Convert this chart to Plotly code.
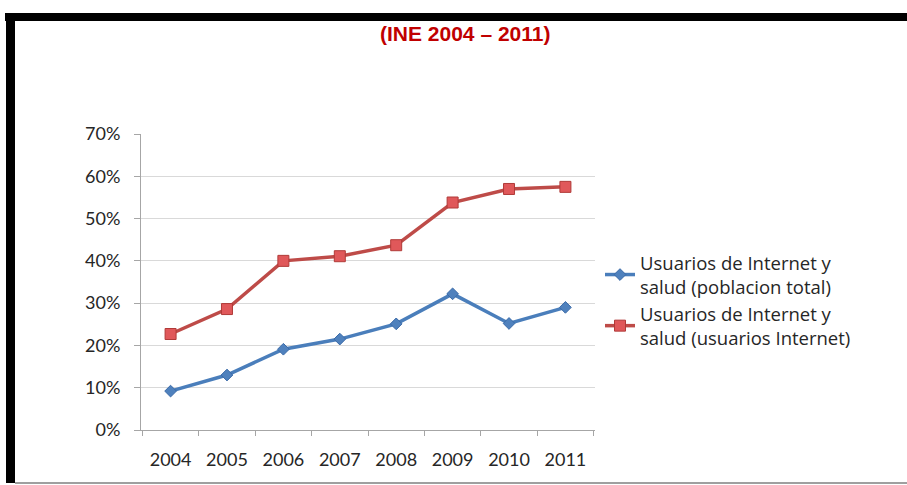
import plotly.graph_objects as go

years = ["2004", "2005", "2006", "2007", "2008", "2009", "2010", "2011"]
poblacion_total = [0.092, 0.130, 0.191, 0.215, 0.251, 0.322, 0.252, 0.290]
usuarios_internet = [0.227, 0.286, 0.400, 0.411, 0.437, 0.538, 0.570, 0.575]
series_names = ["Usuarios de Internet y<br>salud (poblacion total)",
                "Usuarios de Internet y<br>salud (usuarios Internet)"]
y_ticks = [0, 0.1, 0.2, 0.3, 0.4, 0.5, 0.6, 0.7]
title_text = "(INE 2004 – 2011)"

W, H = 907, 485
L, R, T, B = 141, 312, 134, 55
pw, ph = W - L - R, H - T - B

def px(x):
    return (x - L) / pw

def py(y):
    return (H - B - y) / ph

font = "Lato, 'Open Sans', sans-serif"
lfont = "'Open Sans', Lato, sans-serif"

fig = go.Figure()
fig.add_trace(go.Scatter(
    x=years, y=poblacion_total, name=series_names[0], mode="lines+markers",
    line=dict(color="#4A7EBB", width=3.5),
    marker=dict(symbol="diamond", size=9, color="#4F81BD", line=dict(color="#3A6AA8", width=1)),
))
fig.add_trace(go.Scatter(
    x=years, y=usuarios_internet, name=series_names[1], mode="lines+markers",
    line=dict(color="#BE4B48", width=3.5),
    marker=dict(symbol="square", size=11, color="#E0585A", line=dict(color="#B03A38", width=1)),
))

shapes = [
    dict(type="rect", xref="paper", yref="paper", x0=px(5), x1=px(907), y0=py(21), y1=py(13),
         fillcolor="black", line=dict(width=0), layer="above"),
    dict(type="rect", xref="paper", yref="paper", x0=px(6), x1=px(15), y0=py(483), y1=py(13),
         fillcolor="black", line=dict(width=0), layer="above"),
    dict(type="line", xref="paper", yref="paper", x0=px(15), x1=px(907), y0=py(483), y1=py(483),
         line=dict(color="#7F7F7F", width=1.5)),
]

fig.update_layout(
    width=W, height=H,
    margin=dict(l=L, r=R, t=T, b=B),
    paper_bgcolor="white", plot_bgcolor="white",
    showlegend=True,
    legend=dict(x=px(600), y=py(244), xanchor="left", yanchor="top",
                font=dict(family=lfont, size=18.5, color="#262626"),
                tracegroupgap=1, itemwidth=30, bgcolor="rgba(0,0,0,0)"),
    shapes=shapes,
    annotations=[dict(text="<b>" + title_text + "</b>", xref="paper", yref="paper",
                      x=px(465), y=py(33), xanchor="center", yanchor="middle", showarrow=False,
                      font=dict(family="'Liberation Sans Narrow', 'Liberation Sans', Arial", size=21,
                                color="#C00000"))],
    xaxis=dict(type="category", showgrid=False, showline=True, linecolor="#A6A6A6", linewidth=1,
               ticks="outside", tickson="boundaries", ticklen=5, tickcolor="#A6A6A6",
               tickfont=dict(family=font, size=18, color="#262626"), ticklabelstandoff=13,
               zeroline=False, fixedrange=True),
    yaxis=dict(range=[0, 0.7], tickvals=y_ticks, tickformat=".0%", showgrid=True,
               gridcolor="#D9D9D9", gridwidth=1, showline=True, linecolor="#A6A6A6",
               ticks="outside", ticklen=6, tickcolor="#A6A6A6", zeroline=False,
               tickfont=dict(family=font, size=18, color="#262626"), ticklabelstandoff=10),
)

fig.write_html("out.html")
